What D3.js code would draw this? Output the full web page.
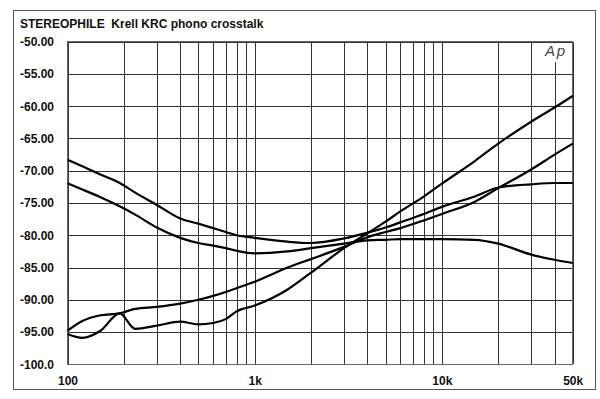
<!DOCTYPE html>
<html>
<head>
<meta charset="utf-8">
<script src="https://cdn.jsdelivr.net/npm/d3@7/dist/d3.min.js"></script>
<style>
  html, body { margin: 0; padding: 0; background: #fff; }
  svg { display: block; }
  text { font-family: "Liberation Sans", Arial, Helvetica, sans-serif; }
</style>
</head>
<body>
<svg id="chart" width="600" height="399"></svg>
<script>
const title = "STEREOPHILE  Krell KRC phono crosstalk";
const freqs = [100,120,150,190,230,300,400,500,600,700,800,1000,1500,2000,3000,4000,5000,6000,8000,10000,15000,20000,30000,40000,50000];
const seriesA = [-68.3,-69.3,-70.6,-71.9,-73.4,-75.3,-77.4,-78.2,-78.9,-79.5,-80.0,-80.4,-81.0,-81.2,-80.5,-79.6,-78.8,-78.0,-76.7,-75.6,-74.0,-72.6,-72.1,-71.9,-71.9];
const seriesB = [-71.95,-72.9,-74.1,-75.5,-76.8,-78.8,-80.4,-81.2,-81.6,-82.0,-82.4,-82.8,-82.5,-82.0,-81.3,-80.8,-80.7,-80.6,-80.6,-80.6,-80.7,-81.3,-83.0,-83.8,-84.3];
const seriesC = [-95.3,-95.9,-94.8,-92.1,-94.5,-94.0,-93.4,-93.8,-93.6,-93.0,-91.8,-90.9,-88.4,-85.8,-82.0,-79.7,-77.9,-76.3,-74.0,-72.0,-68.5,-65.8,-62.4,-60.2,-58.4];
const seriesD = [-94.8,-93.3,-92.4,-92.1,-91.4,-91.1,-90.6,-90.0,-89.4,-88.8,-88.2,-87.2,-85.0,-83.7,-81.8,-80.3,-79.5,-78.9,-77.7,-76.7,-74.8,-72.7,-69.8,-67.5,-65.8];
const yTicks = [-50,-55,-60,-65,-70,-75,-80,-85,-90,-95,-100];
const yTickLabels = ["-50.00","-55.00","-60.00","-65.00","-70.00","-75.00","-80.00","-85.00","-90.00","-95.00","-100.0"];
const xGrid = [100,200,300,400,500,600,700,800,900,1000,2000,3000,4000,5000,6000,7000,8000,9000,10000,20000,30000,40000,50000];
const xTicks = [100,1000,10000,50000];
const xTickLabels = ["100","1k","10k","50k"];

const svg = d3.select("#chart");
const L = 67.5, R = 572.7, T = 41.7, B = 364.3;
const x = d3.scaleLog().domain([100, 50000]).range([L, R]);
const y = d3.scaleLinear().domain([-100, -50]).range([B, T]);

// outer frame
svg.append("rect").attr("x", 13.5).attr("y", 10.5).attr("width", 582).attr("height", 379)
  .attr("fill", "none").attr("stroke", "#555").attr("stroke-width", 1);

// title
svg.append("text").attr("x", 20).attr("y", 27.5).attr("font-size", 12).attr("font-weight", "bold")
  .attr("fill", "#111").style("white-space", "pre").attr("xml:space", "preserve").text(title);

// grid via axes
svg.append("g").attr("transform", `translate(0,${B})`)
  .call(d3.axisBottom(x).tickValues(xGrid).tickSize(-(B - T)).tickFormat(""))
  .call(g => g.select(".domain").remove())
  .call(g => g.selectAll("line").attr("stroke", "#333").attr("stroke-width", 1).attr("shape-rendering", "crispEdges"));

svg.append("g").attr("transform", `translate(${L},0)`)
  .call(d3.axisLeft(y).tickValues(yTicks).tickSize(-(R - L)).tickFormat(""))
  .call(g => g.select(".domain").remove())
  .call(g => g.selectAll("line").attr("stroke", "#333").attr("stroke-width", 1).attr("shape-rendering", "crispEdges"));

// plot border
svg.append("rect").attr("x", L).attr("y", T).attr("width", R - L).attr("height", B - T)
  .attr("fill", "none").attr("stroke", "#666").attr("stroke-width", 1).attr("shape-rendering", "crispEdges");

// Ap logo
svg.append("rect").attr("x", 543).attr("y", T + 1.5).attr("width", 25).attr("height", 19).attr("fill", "#fff");
svg.append("text").attr("x", 555).attr("y", 56).attr("text-anchor", "middle").attr("font-size", 15)
  .attr("font-style", "italic").attr("font-weight", "200").attr("fill", "#444")
  .attr("font-family", "'DejaVu Sans', sans-serif").attr("textLength", 20).text("Ap");

// y labels
svg.append("g").attr("transform", `translate(20,0)`)
  .call(d3.axisLeft(y).tickValues(yTicks).tickSize(0).tickPadding(0)
    .tickFormat((d, i) => yTickLabels[i]))
  .call(g => g.select(".domain").remove())
  .call(g => g.selectAll("text").attr("text-anchor", "start").attr("x", 0)
    .attr("font-size", 12).attr("font-weight", "bold").attr("fill", "#111")
    .attr("font-family", "'Liberation Sans', Arial, sans-serif"));

// x labels
svg.append("g").attr("transform", `translate(0,${B})`)
  .call(d3.axisBottom(x).tickValues(xTicks).tickSize(0).tickPadding(0)
    .tickFormat((d, i) => xTickLabels[i]))
  .call(g => g.select(".domain").remove())
  .call(g => g.selectAll("text").attr("dy", null).attr("y", 21).attr("font-size", 12)
    .attr("font-weight", "bold").attr("fill", "#111")
    .attr("font-family", "'Liberation Sans', Arial, sans-serif"));

// curves
const line = d3.line().x(d => x(d[0])).y(d => y(d[1])).curve(d3.curveMonotoneX);
[seriesA, seriesB, seriesC, seriesD].forEach(s => {
  svg.append("path").datum(freqs.map((f, i) => [f, s[i]]))
    .attr("d", line).attr("fill", "none").attr("stroke", "#000")
    .attr("stroke-width", 2.2).attr("stroke-linejoin", "round");
});
</script>
</body>
</html>
